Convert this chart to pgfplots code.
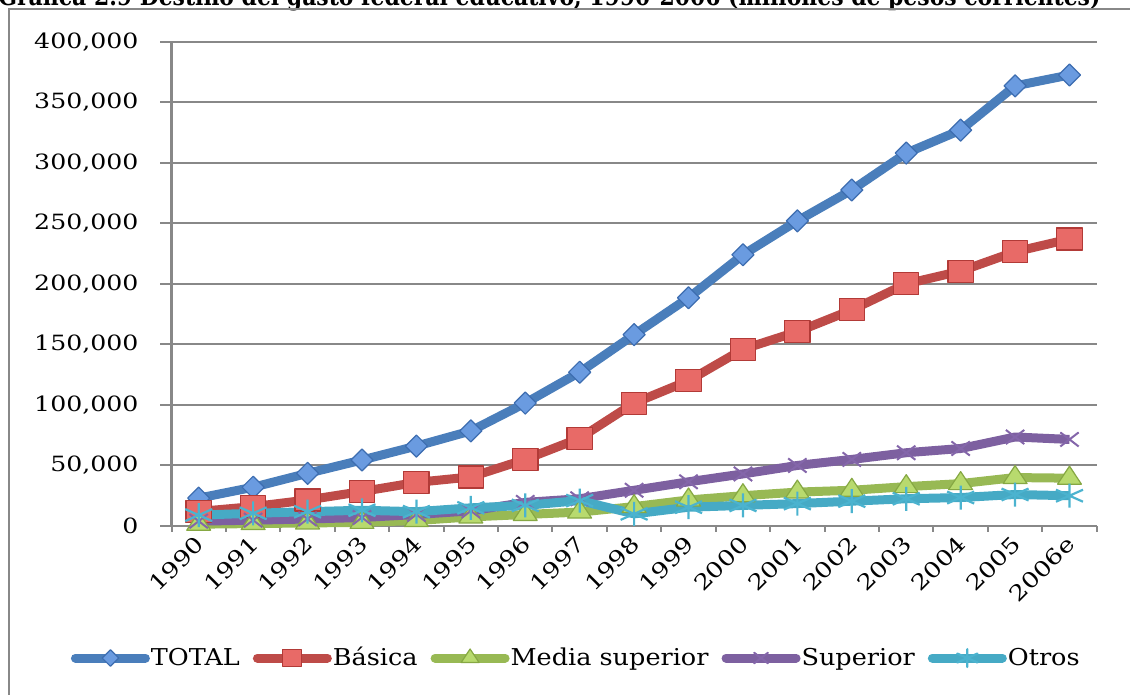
\documentclass[border=0pt]{standalone}
\usepackage{pgfplots}
\pgfplotsset{compat=1.18}
\usepackage{pgfplotstable}
\usepackage{graphicx}
\usepackage{fontspec}
\setmainfont{DejaVu Serif}
\newfontfamily\tickfont[FakeStretch=1.2]{DejaVu Serif}
\newfontfamily\legfont[FakeStretch=1.1]{DejaVu Serif}

\definecolor{totline}{HTML}{4A7EBB}
\definecolor{totfill}{HTML}{6A9BE0}
\definecolor{totdraw}{HTML}{3D6DB0}
\definecolor{basline}{HTML}{BE4B48}
\definecolor{basfill}{HTML}{E86A67}
\definecolor{basdraw}{HTML}{B23A37}
\definecolor{medline}{HTML}{98B954}
\definecolor{medfill}{HTML}{B8DA6E}
\definecolor{meddraw}{HTML}{86A843}
\definecolor{supline}{HTML}{7D60A0}
\definecolor{supmark}{HTML}{8466AA}
\definecolor{otrline}{HTML}{46AAC5}
\definecolor{otrmark}{HTML}{4BB3CF}
\definecolor{gridgray}{HTML}{888888}

% Gasto federal educativo por destino (millones de pesos corrientes)
\pgfplotstableread{
idx total basica media superior otros
0  23000  12000  1500  4000  9000
1  32000  16000  2000  4800 10500
2  43500  21500  2500  5800 11800
3  54500  28500  3000  7000 13000
4  66000  36000  4500  9500 11800
5  78500  40500  7500 12500 15000
6 101500  55000  9500 19500 17000
7 127000  72500 11500 22500 21000
8 158000 101500 16000 29500 10000
9 188500 120000 21500 36500 15500
10 224000 146000 25000 43000 17000
11 252000 160500 28000 50000 18500
12 277500 178500 29500 55000 20500
13 308000 200000 32500 60500 22500
14 327000 210500 35000 64000 23500
15 363500 226500 40000 73500 26000
16 372500 237000 39500 71500 25000
}\gasto

\begin{document}
\begin{tikzpicture}
\path[use as bounding box] (0,0) rectangle (565pt,347.5pt);
\clip (0,0) rectangle (565pt,347.5pt);

% title line above the chart frame
\node[anchor=base west, inner sep=0pt, font={\bfseries\fontsize{12.5pt}{14pt}\selectfont}]
  at (-1pt,344.5pt)
  {\resizebox{551pt}{\height}{Gráfica 2.9 Destino del gasto federal educativo, 1990-2006 (millones de pesos corrientes)}};

% chart frame
\draw[gridgray, line width=1pt] (4.25pt,-5pt) -- (4.25pt,342.75pt) -- (575pt,342.75pt);

\begin{axis}[
  at={(85.75pt,84.5pt)}, anchor=south west,
  scale only axis, width=462.6pt, height=242.15pt,
  xmin=-0.5, xmax=16.5, ymin=0, ymax=400000,
  clip=false,
  axis x line*=bottom, axis y line*=left,
  x axis line style={gridgray, line width=1pt, -},
  y axis line style={gridgray, line width=1.5pt, -},
  ymajorgrids, major grid style={gridgray, line width=1pt},
  ytick={0,50000,100000,150000,200000,250000,300000,350000,400000},
  scaled y ticks=false,
  ytick style={draw=none},
  xtick={-0.5,0.5,...,16.5},
  x tick label as interval,
  xticklabels={1990,1991,1992,1993,1994,1995,1996,1997,1998,1999,2000,2001,2002,2003,2004,2005,2006e},
  xtick style={gridgray, line width=1pt},
  tick align=outside,
  major tick length=3pt,
  yticklabel style={font={\tickfont\fontsize{10.5pt}{12pt}\selectfont}, text=black,
    xshift=-10pt,
    /pgf/number format/fixed, /pgf/number format/precision=0,
    /pgf/number format/1000 sep={,}, /pgf/number format/assume math mode=true},
  xticklabel style={font={\tickfont\fontsize{10.8pt}{12pt}\selectfont}, text=black,
    rotate=45, anchor=east, yshift=-3.5pt, xshift=1pt,
    /pgf/number format/assume math mode=true},
  legend columns=5,
  legend style={draw=none, fill=none, at={(0.437,-0.2726)}, anchor=center,
    font={\legfont\fontsize{11.6pt}{13pt}\selectfont},
    nodes={inner xsep=0.5pt},
    /tikz/every even column/.append style={column sep=6pt},
    /tikz/every odd column/.append style={column sep=0pt}},
  legend image code/.code={
    \draw[mark repeat=2, mark phase=2, line cap=round, #1,
          every mark/.append style={scale=0.75}]
      plot coordinates {(0pt,0pt) (17.5pt,0pt) (35pt,0pt)};
  },
]
% outward tick stubs on the value axis
\pgfplotsinvokeforeach{0,50000,100000,150000,200000,250000,300000,350000,400000}{
  \draw[gridgray, line width=1pt] (axis cs:-0.5,#1) -- ++(-6pt,0pt);
}

\addplot[totline, line width=4.5pt, line join=round, mark=square*, mark size=3.9pt,
  mark options={rotate=45, fill=totfill, draw=totdraw, line width=0.6pt, solid}]
  table[x=idx, y=total]{\gasto};
\addlegendentry{TOTAL}

\addplot[basline, line width=4.5pt, line join=round, mark=square*, mark size=5.5pt,
  mark options={xscale=1.15, fill=basfill, draw=basdraw, line width=0.6pt, solid}]
  table[x=idx, y=basica]{\gasto};
\addlegendentry{Básica}

\addplot[medline, line width=4.5pt, line join=round, mark=triangle*, mark size=6pt,
  mark options={xscale=1.15, fill=medfill, draw=meddraw, line width=0.6pt, solid}]
  table[x=idx, y=media]{\gasto};
\addlegendentry{Media superior}

\addplot[supline, line width=4.5pt, line join=round, mark=x, mark size=5pt,
  mark options={xscale=1.3, draw=supmark, line width=1pt, solid}]
  table[x=idx, y=superior]{\gasto};
\addlegendentry{Superior}

\addplot[otrline, line width=4.5pt, line join=round, mark=asterisk, mark size=6pt,
  mark options={xscale=1.3, draw=otrmark, line width=1.1pt, solid}]
  table[x=idx, y=otros]{\gasto};
\addlegendentry{Otros}
\end{axis}
\end{tikzpicture}
\end{document}
